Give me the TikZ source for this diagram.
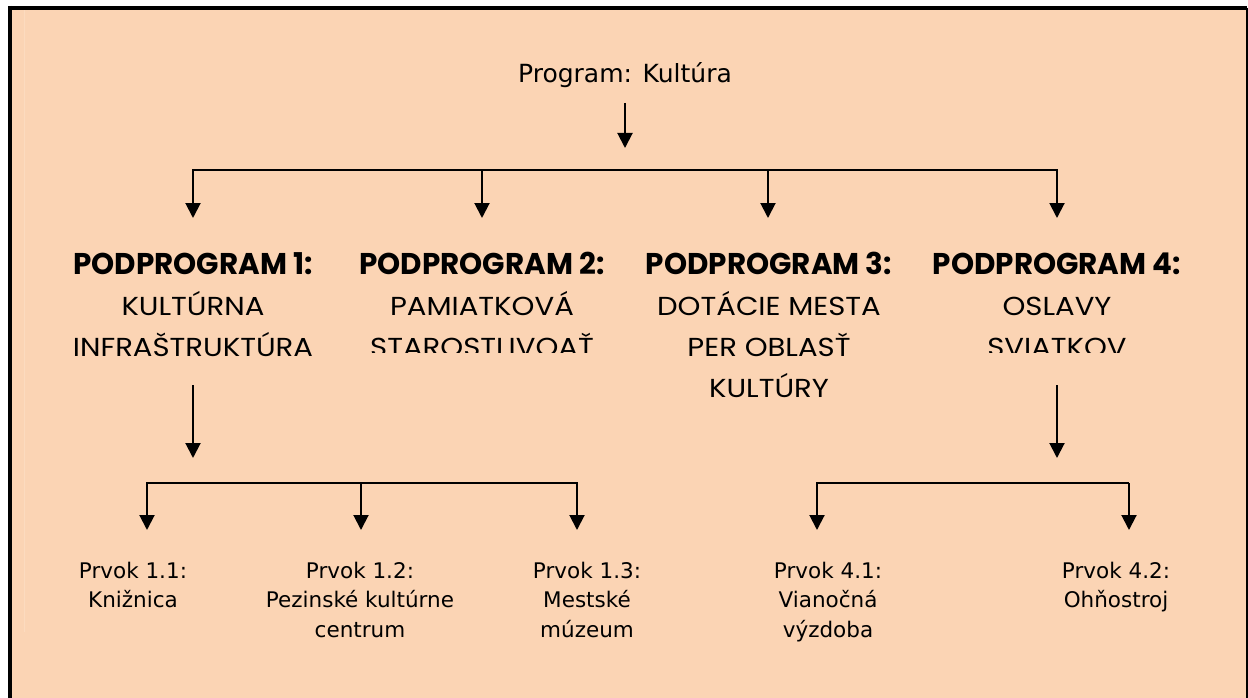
\documentclass[tikz,border=0pt]{standalone}
\usepackage{fontspec}
\setmainfont{DejaVu Sans}
\newfontfamily\hbfont[FakeStretch=0.98]{Poppins}
\newfontfamily\hsfont[FakeStretch=1.12]{Poppins}
\usetikzlibrary{arrows.meta}
\definecolor{peach}{HTML}{FBD4B4}
\tikzset{
  arr/.style={line width=2pt, -{Triangle[length=15pt,width=15pt]}},
  head/.style={anchor=base, inner sep=0pt, font=\hbfont\bfseries\fontsize{30}{36}\selectfont},
  sub/.style={anchor=base, inner sep=0pt, font=\hsfont\fontsize{26}{30}\selectfont},
  elem/.style={anchor=base, inner sep=0pt, font=\fontsize{21.5}{25}\selectfont},
  toptext/.style={anchor=base, inner sep=0pt, font=\fontsize{25}{29}\selectfont},
}
\begin{document}
\begin{tikzpicture}[x=1pt,y=-1pt]
\useasboundingbox (0,0) rectangle (1248,698);
\fill[white] (0,0) rectangle (1248,698);
\fill[peach] (10,8) rectangle (1247,698);
\draw[white!15!peach, line width=0.6pt] (24,10) -- (24,632);
\draw[line width=4pt] (8,8) -- (1247,8);
\draw[line width=4pt] (10,6) -- (10,698);
\draw[line width=1.5pt] (1247,8) -- (1247,698);

% top
\node[toptext] (prog) at (625,83) {Program: Kultúra};
\coordinate (t0) at (625,103);
\coordinate (t1) at (625,148);
\draw[arr] (t0) -- (t1);

% level 1 connectors
\coordinate (c1) at (193,170);
\coordinate (c2) at (482,170);
\coordinate (c3) at (768,170);
\coordinate (c4) at (1057,170);
\coordinate (e1) at (193,218);
\coordinate (e2) at (482,218);
\coordinate (e3) at (768,218);
\coordinate (e4) at (1057,218);
\draw[arr] (c2) -- (c1) -- (e1);
\draw[arr] (c2) -- (e2);
\draw[arr] (c3) -- (e3);
\draw[arr] (c2) -- (c4) -- (e4);

% headings
\node[head] (h1a) at (193,274) {PODPROGRAM 1:};
\node[sub]  (h1b) at (193,315) {KULTÚRNA};
\node[sub]  (h1c) at (193,356) {INFRAŠTRUKTÚRA};

\node[head] (h2a) at (482,274) {PODPROGRAM 2:};
\node[sub]  (h2b) at (482,315) {PAMIATKOVÁ};
\begin{scope}
\clip (340,320) rectangle (620,352);
\node[sub]  (h2c) at (482,356) {STAROSTLIVOAŤ};
\end{scope}

\node[head] (h3a) at (769,274) {PODPROGRAM 3:};
\node[sub]  (h3b) at (769,315) {DOTÁCIE MESTA};
\node[sub]  (h3c) at (769,356) {PER OBLASŤ};
\node[sub]  (h3d) at (769,397) {KULTÚRY};

\node[head] (h4a) at (1057,274) {PODPROGRAM 4:};
\node[sub]  (h4b) at (1057,315) {OSLAVY};
\begin{scope}
\clip (940,320) rectangle (1180,352);
\node[sub]  (h4c) at (1057,356) {SVIATKOV};
\end{scope}

% lower left
\coordinate (l0) at (193,385);
\coordinate (l1) at (193,458);
\draw[arr] (l0) -- (l1);
\coordinate (m1) at (147,483);
\coordinate (m2) at (361,483);
\coordinate (m3) at (577,483);
\coordinate (f1) at (147,530);
\coordinate (f2) at (361,530);
\coordinate (f3) at (577,530);
\draw[arr] (m2) -- (m1) -- (f1);
\draw[arr] (m2) -- (f2);
\draw[arr] (m2) -- (m3) -- (f3);

% lower right
\coordinate (r0) at (1057,385);
\coordinate (r1) at (1057,458);
\draw[arr] (r0) -- (r1);
\coordinate (n1) at (817,483);
\coordinate (n2) at (1129,483);
\coordinate (g1) at (817,530);
\coordinate (g2) at (1129,530);
\draw[arr] (n2) -- (n1) -- (g1);
\draw[arr] (n2) -- (g2);

% elements
\node[elem] (p11a) at (133,578) {Prvok 1.1:};
\node[elem] (p11b) at (133,607.5) {Knižnica};

\node[elem] (p12a) at (360,578) {Prvok 1.2:};
\node[elem] (p12b) at (360,607.5) {Pezinské kultúrne};
\node[elem] (p12c) at (360,637) {centrum};

\node[elem] (p13a) at (587,578) {Prvok 1.3:};
\node[elem] (p13b) at (587,607.5) {Mestské};
\node[elem] (p13c) at (587,637) {múzeum};

\node[elem] (p41a) at (828,578) {Prvok 4.1:};
\node[elem] (p41b) at (828,607.5) {Vianočná};
\node[elem] (p41c) at (828,637) {výzdoba};

\node[elem] (p42a) at (1116,578) {Prvok 4.2:};
\node[elem] (p42b) at (1116,607.5) {Ohňostroj};
\end{tikzpicture}
\end{document}
